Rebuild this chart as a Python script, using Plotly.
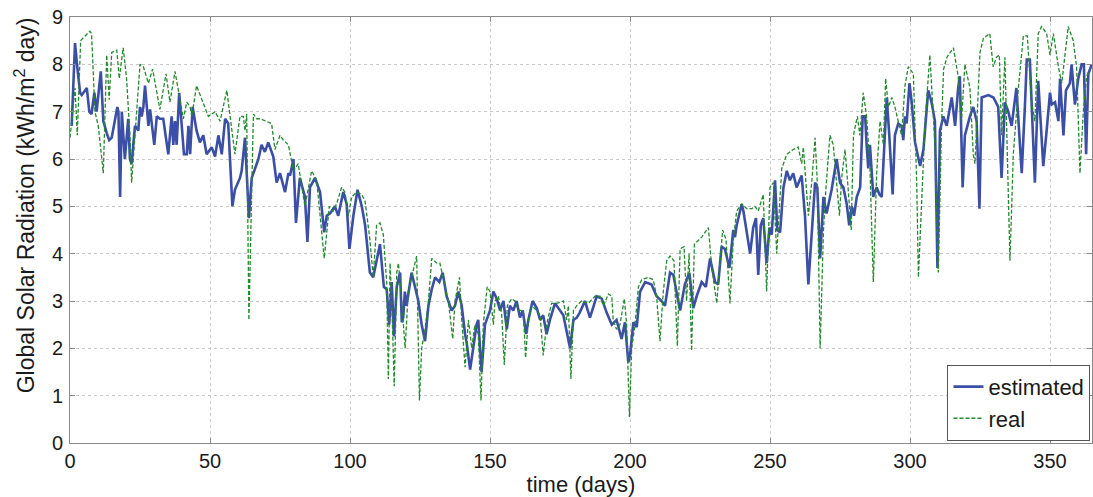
import plotly.graph_objects as go

# ---- Data ----
est_days = [0.6, 1.8, 2.5, 3.6, 4.2, 5.4, 6.0, 6.9, 7.7, 8.7, 9.5, 11.0, 11.9, 13.1, 14.0, 14.9, 16.1, 16.9, 17.3, 17.9,
            18.5, 19.0, 19.6, 20.8, 21.4, 22.0, 23.2, 24.4, 25.0, 25.6, 26.2, 26.8, 28.0, 28.6, 30.1, 31.0, 32.1, 33.3,
            35.1, 36.3, 36.9, 37.5, 38.1, 39.0, 39.9, 40.7, 41.7, 42.3, 42.9, 43.8, 45.2, 46.4, 47.6, 48.8, 50.6, 51.8,
            53.0, 54.2, 55.4, 56.5, 58.0, 58.9, 60.7, 61.3, 62.5, 63.1, 63.9, 64.9, 66.1, 67.3, 68.4, 69.6, 70.8, 72.6,
            73.8, 75.0, 76.8, 78.0, 78.6, 79.8, 80.7, 82.1, 83.9, 84.8, 85.7, 87.5, 89.3, 90.8, 91.7, 92.9, 94.6, 95.8,
            97.6, 98.8, 99.8, 101.2, 102.7, 104.2, 105.4, 107.1, 108.3, 110.7, 112.1, 113.1, 114.0, 114.9, 115.7, 116.7,
            117.9, 118.5, 119.0, 119.6, 120.2, 122.0, 123.2, 124.4, 125.6, 126.8, 128.0, 129.2, 130.4, 131.9, 133.1,
            134.5, 136.3, 137.5, 138.7, 139.9, 141.1, 141.7, 142.9, 144.0, 145.2, 145.8, 147.0, 148.2, 150.0, 151.2,
            152.4, 153.6, 154.8, 156.0, 157.1, 158.3, 159.5, 160.7, 161.7, 162.9, 163.7, 165.2, 166.7, 167.9, 169.0,
            170.2, 171.4, 173.2, 175.0, 176.2, 177.4, 178.6, 179.8, 181.0, 182.0, 183.9, 185.7, 188.1, 189.9, 191.7,
            193.5, 195.2, 197.0, 198.2, 199.4, 200.0, 201.2, 202.4, 203.6, 205.4, 207.7, 209.5, 211.3, 212.5, 214.3,
            215.5, 216.9, 217.9, 219.6, 221.2, 222.6, 223.8, 225.6, 227.1, 228.6, 230.4, 231.5, 232.7, 233.9, 235.5,
            236.9, 237.5, 238.1, 239.9, 240.5, 241.7, 242.9, 244.0, 245.0, 245.8, 246.7, 247.6, 248.8, 249.8, 250.6,
            251.8, 252.6, 253.6, 254.8, 256.0, 257.1, 258.3, 259.5, 261.3, 262.5, 263.7, 264.9, 266.1, 266.9, 267.9,
            269.1, 270.2, 272.0, 273.8, 275.0, 276.2, 277.4, 278.3, 279.2, 280.0, 281.0, 282.2, 283.1, 284.0, 284.5,
            285.1, 285.7, 286.9, 288.1, 289.1, 289.9, 291.1, 291.7, 292.6, 293.8, 294.6, 295.8, 297.0, 297.6, 298.2,
            298.8, 299.8, 300.6, 301.8, 303.6, 304.8, 306.0, 306.5, 307.7, 308.9, 309.8, 310.7, 311.9, 313.1, 314.9,
            316.1, 317.2, 317.8, 318.8, 319.6, 321.4, 322.6, 323.8, 324.8, 325.6, 328.0, 329.8, 331.5, 332.7, 333.9,
            335.1, 336.3, 338.0, 339.9, 341.1, 341.7, 342.8, 344.6, 345.8, 347.6, 348.8, 350.0, 350.6, 351.8, 353.0,
            353.6, 354.8, 355.7, 357.1, 357.7, 358.9, 360.1, 361.3, 362.1, 362.9, 363.7, 364.9]
est_vals = [6.7, 8.45, 8.0, 7.4, 7.35, 7.45, 7.5, 7.0, 6.95, 7.4, 7.0, 7.85, 6.8, 6.55, 6.4, 6.45, 6.8, 7.1, 7.0, 5.2,
            7.0, 6.5, 6.0, 6.85, 6.0, 5.9, 6.7, 6.6, 7.1, 6.9, 7.1, 7.55, 6.7, 7.05, 6.3, 6.9, 6.85, 6.85,
            6.1, 6.9, 6.3, 6.8, 6.3, 7.4, 6.7, 6.1, 6.1, 6.7, 6.1, 7.1, 6.6, 6.35, 6.5, 6.1, 6.25, 6.05,
            6.5, 6.1, 6.85, 6.75, 5.0, 5.35, 5.6, 5.75, 6.45, 5.7, 4.75, 5.6, 5.8, 6.0, 6.3, 6.15, 6.35, 6.05,
            5.5, 5.7, 5.3, 5.7, 5.65, 6.0, 4.65, 5.6, 5.2, 4.25, 5.4, 5.6, 5.3, 4.45, 4.8, 4.85, 5.0, 4.8,
            5.3, 5.05, 4.1, 4.8, 5.35, 5.0, 4.6, 3.6, 3.5, 4.2, 3.3, 3.25, 2.5, 3.4, 2.25, 3.3,
            3.6, 2.55, 2.65, 3.2, 2.9, 3.6, 3.3, 3.0, 2.5, 2.15, 2.9, 3.25, 3.5, 3.4, 3.6,
            3.1, 2.8, 2.9, 3.2, 2.9, 2.3, 2.1, 1.55, 2.0, 2.5, 2.6, 1.5, 2.5, 2.8, 3.2,
            3.05, 2.8, 3.0, 2.4, 2.9, 2.8, 3.0, 2.65, 2.8, 2.3, 2.6, 3.0, 2.85, 2.6, 2.7,
            2.3, 2.6, 2.95, 2.8, 2.7, 2.35, 2.0, 2.6, 2.65, 2.75, 3.0, 2.65, 3.1, 3.05, 2.75,
            2.5, 2.6, 2.2, 2.55, 1.7, 1.85, 2.55, 2.45, 3.2, 3.4, 3.35, 3.1, 3.0, 2.9, 3.6,
            3.55, 3.1, 2.8, 3.35, 3.6, 2.85, 3.1, 3.4, 3.3, 3.9, 3.4, 3.35, 4.15, 4.1, 3.7,
            4.5, 4.35, 4.6, 5.05, 4.9, 4.4, 4.0, 4.55, 4.75, 3.55, 4.6, 4.75, 3.8, 4.55, 4.4,
            5.55, 4.5, 4.45, 5.4, 5.75, 5.55, 5.7, 5.4, 5.65, 4.8, 3.35, 4.5, 5.5, 5.4, 3.9,
            5.2, 4.85, 5.35, 6.0, 5.5, 5.4, 5.05, 4.6, 5.0, 4.8, 5.2, 5.4, 6.9, 6.9, 6.3,
            5.8, 6.3, 5.2, 5.4, 5.25, 5.2, 6.6, 7.3, 6.5, 5.25, 6.5, 6.75, 6.7, 6.4, 6.9,
            6.75, 7.6, 7.2, 6.35, 5.85, 6.2, 7.0, 7.45, 7.2, 6.8, 3.7, 6.6, 6.9, 6.7, 7.3,
            6.7, 7.5, 7.75, 5.4, 6.5, 6.9, 7.1, 6.8, 4.95, 7.3, 7.35, 7.3, 7.1, 5.6, 7.2,
            7.0, 6.7, 7.5, 5.7, 7.2, 8.1, 8.1, 5.5, 7.65, 5.85, 6.6, 7.4, 7.15, 7.2, 6.8,
            7.7, 6.5, 7.45, 7.6, 8.0, 7.15, 7.7, 8.0, 8.0, 6.1, 7.8, 8.0]

real_days = [0.0, 1.8, 2.6, 3.8, 5.4, 7.1, 7.7, 8.9, 10.1, 11.9, 13.1, 14.0, 14.9, 16.7, 17.6, 19.0, 20.2, 21.4, 22.0,
             25.0, 26.2, 28.0, 29.5, 32.1, 34.3, 35.7, 37.5, 40.5, 41.7, 42.9, 43.5, 45.2, 49.4, 51.8, 53.6, 56.0,
             58.9, 60.7, 61.9, 62.5, 63.1, 63.9, 65.5, 66.7, 67.9, 70.2, 72.0, 73.2, 75.0, 76.2, 78.0, 79.8, 81.5,
             83.9, 86.3, 88.1, 89.9, 90.8, 92.6, 94.0, 95.2, 97.0, 98.2, 99.4, 100.6, 102.4, 104.2, 105.4, 107.1,
             108.3, 109.5, 110.7, 111.9, 113.1, 113.7, 114.3, 114.9, 115.8, 116.7, 117.3, 118.2, 119.7, 120.8,
             122.0, 123.8, 124.8, 125.6, 126.8, 128.0, 129.2, 131.0, 132.1, 133.3, 135.1, 136.7, 137.5, 139.1,
             139.9, 141.1, 142.3, 143.5, 144.6, 145.8, 146.8, 147.6, 149.0, 150.0, 151.2, 151.8, 153.0, 154.2,
             155.1, 156.2, 157.7, 158.9, 160.1, 161.9, 162.7, 163.7, 164.9, 166.7, 167.9, 169.0, 170.2, 172.0,
             173.8, 176.2, 177.4, 178.0, 178.9, 179.8, 181.0, 182.7, 185.1, 187.5, 189.3, 190.5, 192.3, 193.5,
             194.0, 195.2, 196.4, 198.0, 198.8, 199.8, 200.6, 201.8, 203.0, 204.2, 206.5, 208.3, 209.5, 210.7,
             211.9, 213.1, 214.3, 215.7, 216.9, 217.9, 219.3, 220.2, 221.1, 222.0, 223.0, 225.6, 228.0, 229.2,
             231.0, 232.1, 233.1, 234.3, 235.7, 236.9, 238.1, 239.9, 241.7, 243.5, 244.6, 245.8, 247.6, 248.8,
             250.0, 251.2, 252.4, 254.2, 256.0, 258.3, 260.1, 261.3, 261.9, 263.7, 264.9, 266.1, 266.9, 267.9,
             269.1, 270.0, 271.4, 272.6, 273.8, 274.8, 275.6, 276.8, 278.0, 279.0, 279.8, 281.2, 282.1, 283.3,
             284.5, 285.7, 286.9, 288.1, 289.3, 290.5, 291.3, 292.3, 293.5, 294.6, 295.8, 297.0, 298.2, 299.4,
             301.2, 302.4, 303.0, 304.2, 305.4, 307.1, 308.9, 310.1, 311.3, 312.0, 313.2, 315.5, 317.2, 318.4,
             319.6, 321.4, 322.6, 323.2, 324.0, 325.0, 326.2, 328.5, 329.7, 330.9, 331.9, 332.7, 333.9, 335.7,
             336.9, 338.7, 340.5, 341.9, 343.4, 344.6, 345.8, 347.0, 348.8, 350.0, 351.2, 353.0, 354.2, 356.5,
             358.3, 359.5, 360.7, 361.9, 363.1, 364.3]
real_vals = [6.45, 7.5, 6.5, 8.5, 8.6, 8.7, 8.65, 7.0, 6.7, 5.7, 8.2, 7.25, 8.25, 8.3, 7.7, 8.35, 7.7, 6.5, 5.5,
             8.0, 7.95, 7.6, 7.9, 7.05, 7.8, 7.2, 7.85, 6.85, 7.2, 7.1, 6.9, 7.55, 6.9, 7.0, 6.8, 7.45,
             6.1, 6.9, 6.9, 6.6, 6.95, 2.6, 6.95, 6.85, 6.85, 6.8, 6.75, 6.2, 6.5, 6.4, 6.3, 5.75, 5.9,
             5.0, 5.75, 5.55, 4.4, 3.9, 5.0, 4.9, 5.05, 5.4, 5.3, 4.8, 5.2, 5.3, 5.25, 5.1, 4.3,
             3.5, 4.6, 4.65, 4.4, 3.4, 1.35, 3.8, 3.0, 1.2, 3.6, 3.8, 3.2, 2.0, 3.2,
             3.5, 3.95, 0.9, 2.0, 2.4, 3.0, 3.9, 3.8, 3.8, 3.5, 3.0, 2.2, 3.0, 3.5,
             2.6, 1.6, 2.6, 2.0, 2.5, 2.3, 0.9, 2.5, 3.3, 3.2, 2.5, 3.0, 3.1, 2.7,
             1.65, 2.9, 3.05, 3.0, 2.8, 2.8, 1.8, 2.6, 2.9, 2.8, 2.7, 1.85, 2.5, 2.95,
             2.95, 3.0, 2.6, 2.9, 1.35, 2.8, 2.9, 3.0, 2.95, 3.1, 3.1, 2.9, 3.15, 3.1,
             2.6, 2.4, 2.5, 3.05, 2.5, 0.55, 2.0, 2.5, 3.3, 3.45, 3.5, 3.45, 3.1, 2.15,
             3.2, 3.85, 3.95, 3.85, 2.05, 4.1, 4.15, 3.0, 4.0, 1.95, 4.2, 4.35, 4.55, 3.7,
             2.95, 3.8, 4.5, 4.3, 2.95, 4.3, 4.9, 5.05, 4.95, 4.95, 5.0, 4.9, 5.25, 3.2,
             5.4, 5.5, 4.0, 5.8, 6.1, 6.2, 6.25, 5.9, 6.25, 4.8, 5.5, 6.45, 5.5, 2.0,
             4.5, 5.4, 6.5, 6.3, 5.5, 4.8, 5.6, 6.2, 5.3, 4.5, 6.5, 6.9, 6.5, 7.4,
             6.9, 5.8, 3.4, 5.7, 6.8, 6.3, 7.7, 7.1, 7.3, 7.1, 6.8, 6.5, 7.55, 7.95,
             7.8, 5.5, 3.5, 5.0, 6.8, 8.2, 6.3, 3.6, 6.8, 7.9, 8.15, 8.35, 7.75, 6.8,
             8.0, 7.5, 6.1, 5.9, 7.0, 8.25, 8.55, 8.65, 7.95, 8.15, 8.2, 6.5, 8.15, 3.85,
             6.1, 7.5, 8.6, 8.6, 7.2, 6.8, 8.65, 8.8, 8.65, 8.2, 8.65, 7.95, 7.6, 8.8,
             8.5, 7.95, 5.7, 7.0, 7.75, 7.9]

x_ticks = [0, 50, 100, 150, 200, 250, 300, 350]
y_ticks = [0, 1, 2, 3, 4, 5, 6, 7, 8, 9]

FONT = "Liberation Sans, Arial, sans-serif"
AXIS_COLOR = "#8a8a8a"
GRID_COLOR = "#c8c8c8"
TEXT_COLOR = "#1a1a1a"

fig = go.Figure()
fig.add_trace(go.Scatter(x=est_days, y=est_vals, mode="lines", name="estimated",
                         line=dict(color="#3b4fa6", width=2.6)))
fig.add_trace(go.Scatter(x=real_days, y=real_vals, mode="lines", name="real",
                         line=dict(color="#23892d", width=1.3, dash="4px,2px")))

axis_common = dict(showline=True, linecolor=AXIS_COLOR, linewidth=1, mirror="ticks",
                   ticks="inside", ticklen=5, tickcolor=AXIS_COLOR,
                   showgrid=True, gridcolor=GRID_COLOR, griddash="dot", gridwidth=1,
                   zeroline=False, tickfont=dict(family=FONT, size=20, color=TEXT_COLOR))

fig.update_xaxes(range=[0, 365], tickvals=x_ticks, ticktext=[str(v) for v in x_ticks],
                 title=dict(text="time (days)", font=dict(family=FONT, size=22, color=TEXT_COLOR), standoff=1),
                 **axis_common)
fig.update_yaxes(range=[0, 9], tickvals=y_ticks, ticktext=[str(v) for v in y_ticks],
                 ticklabelstandoff=2, **axis_common)

# y-axis title (placed as rotated text, slightly above centre as in the reference)
fig.add_annotation(text="Global Solar Radiation (kWh/m<sup>2</sup> day)",
                   xref="paper", yref="paper", x=-0.044, y=0.558,
                   xanchor="center", yanchor="middle", textangle=-90, showarrow=False,
                   font=dict(family=FONT, size=23, color=TEXT_COLOR))

fig.update_layout(
    width=1093, height=497,
    margin=dict(l=70, r=1, t=17, b=54),
    paper_bgcolor="white", plot_bgcolor="white",
    showlegend=True,
    legend=dict(x=0.9985, y=0.005, xanchor="right", yanchor="bottom",
                bgcolor="white", bordercolor="#555555", borderwidth=1,
                font=dict(family=FONT, size=22, color=TEXT_COLOR),
                tracegroupgap=0, itemwidth=30),
)

fig.write_html("out.html")
